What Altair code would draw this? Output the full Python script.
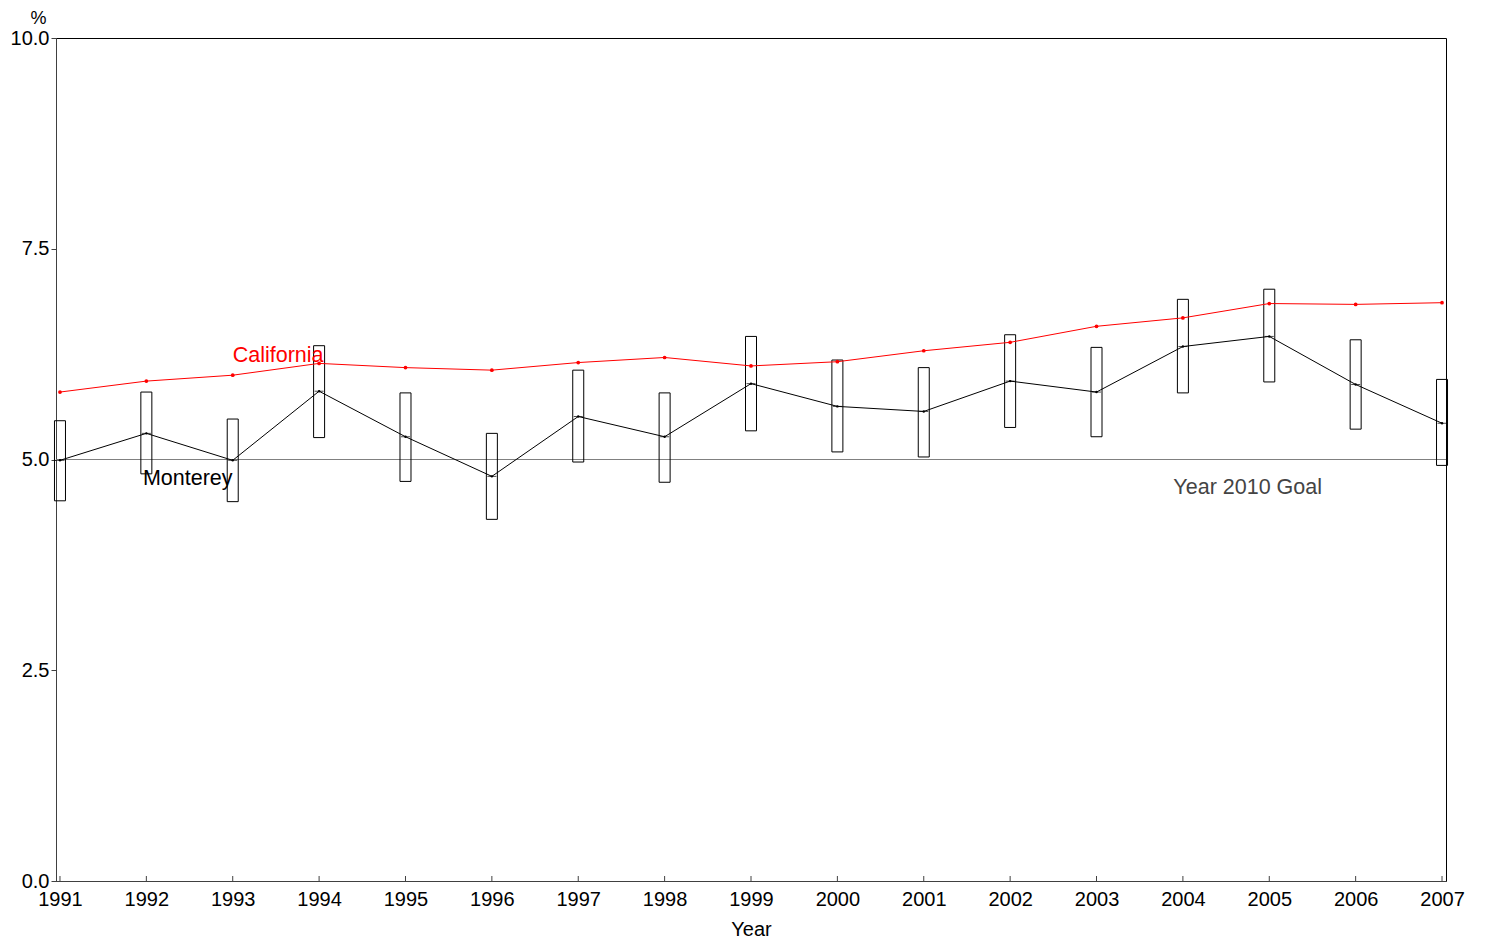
import altair as alt
import pandas as pd

years = list(range(1991, 2008))
california = [5.80, 5.93, 6.00, 6.14, 6.09, 6.06, 6.15, 6.21, 6.11, 6.16,
              6.29, 6.39, 6.58, 6.68, 6.85, 6.84, 6.86]
monterey = [4.99, 5.31, 4.99, 5.81, 5.27, 4.80, 5.51, 5.27, 5.90, 5.63,
            5.57, 5.93, 5.80, 6.34, 6.46, 5.89, 5.43]
monterey_lo = [4.51, 4.83, 4.50, 5.26, 4.74, 4.29, 4.97, 4.73, 5.34, 5.09,
               5.03, 5.38, 5.27, 5.79, 5.92, 5.36, 4.93]
monterey_hi = [5.46, 5.80, 5.48, 6.35, 5.79, 5.31, 6.06, 5.79, 6.46, 6.18,
               6.09, 6.48, 6.33, 6.90, 7.02, 6.42, 5.95]
goal = 5.0
y_ticks = [0, 2.5, 5.0, 7.5, 10.0]

label_text = ["California", "Monterey", "Year 2010 Goal"]
label_x = [1993.0, 1991.96, 2004.75]
label_y = [6.23, 4.77, 4.66]
label_color = ["#ff0000", "#000000", "#444444"]
label_align = ["left", "left", "center"]

df = pd.DataFrame({"year": years, "ca": california, "mo": monterey,
                   "lo": monterey_lo, "hi": monterey_hi})
lab = pd.DataFrame({"text": label_text, "x": label_x, "y": label_y,
                    "color": label_color, "align": label_align})

FONT = "Liberation Sans"
xscale = alt.Scale(domain=[1990.954, 2007.046], nice=False, zero=False, padding=0)
yscale = alt.Scale(domain=[0, 10], nice=False, zero=False, padding=0)

xaxis = alt.Axis(values=years, format="d", title="Year", grid=False,
                 tickSize=0, labelPadding=8, titlePadding=10,
                 labelFontSize=20, titleFontSize=20, labelFont=FONT,
                 titleFont=FONT, labelColor="#000", titleColor="#000",
                 titleFontWeight="normal", domainColor="#404040",
                 labelFlush=False)
yaxis = alt.Axis(values=y_ticks, format=".1f", title="%", grid=False,
                 tickSize=5, tickColor="#404040", labelPadding=2,
                 labelFontSize=20, titleFontSize=18, labelFont=FONT,
                 titleFont=FONT, labelColor="#000", titleColor="#000",
                 titleFontWeight="normal", titleAngle=0, titleX=-18,
                 titleY=-11, titleAlign="center", titleBaseline="bottom",
                 domainColor="#404040")

base = alt.Chart(df)

goal_rule = alt.Chart(pd.DataFrame({"g": [goal]})).mark_rule(
    color="#808080", strokeWidth=1).encode(y=alt.Y("g:Q", scale=yscale, axis=yaxis))

boxes = base.mark_bar(size=11, fillOpacity=0, stroke="#000", strokeWidth=1).encode(
    x=alt.X("year:Q", scale=xscale, axis=xaxis),
    y=alt.Y("lo:Q", scale=yscale, axis=yaxis),
    y2="hi:Q")

ca_line = base.mark_line(color="#ff0000", strokeWidth=1).encode(
    x=alt.X("year:Q", scale=xscale), y=alt.Y("ca:Q", scale=yscale))
ca_pts = base.mark_point(color="#ff0000", filled=True, size=14, opacity=1).encode(
    x=alt.X("year:Q", scale=xscale), y=alt.Y("ca:Q", scale=yscale))

mo_line = base.mark_line(color="#000", strokeWidth=1).encode(
    x=alt.X("year:Q", scale=xscale), y=alt.Y("mo:Q", scale=yscale))
mo_tick = base.mark_tick(color="#000", size=9, thickness=1, orient="horizontal").encode(
    x=alt.X("year:Q", scale=xscale), y=alt.Y("mo:Q", scale=yscale))
mo_pts = base.mark_point(color="#000", filled=True, size=6, opacity=1).encode(
    x=alt.X("year:Q", scale=xscale), y=alt.Y("mo:Q", scale=yscale))

xticks = alt.Chart(pd.DataFrame({"year": years})).mark_rule(
    color="#404040", strokeWidth=1).encode(
    x=alt.X("year:Q", scale=xscale), y=alt.value(843), y2=alt.value(838))

texts = []
for i in range(len(label_text)):
    texts.append(alt.Chart(lab.iloc[[i]]).mark_text(
        font=FONT, fontSize=21.5, align=label_align[i], baseline="middle",
        color=label_color[i]).encode(
        x=alt.X("x:Q", scale=xscale), y=alt.Y("y:Q", scale=yscale),
        text="text:N"))

chart = alt.layer(goal_rule, boxes, ca_line, ca_pts, mo_line, mo_tick, mo_pts,
                  xticks, *texts).properties(
    width=1390, height=843,
    autosize=alt.AutoSizeParams(type="none"),
    padding={"left": 48, "top": 30, "right": 30, "bottom": 60},
    background="white",
).configure_view(stroke="#000", strokeWidth=1)

chart.save("out.html", embed_options={"renderer": "svg", "actions": False})
